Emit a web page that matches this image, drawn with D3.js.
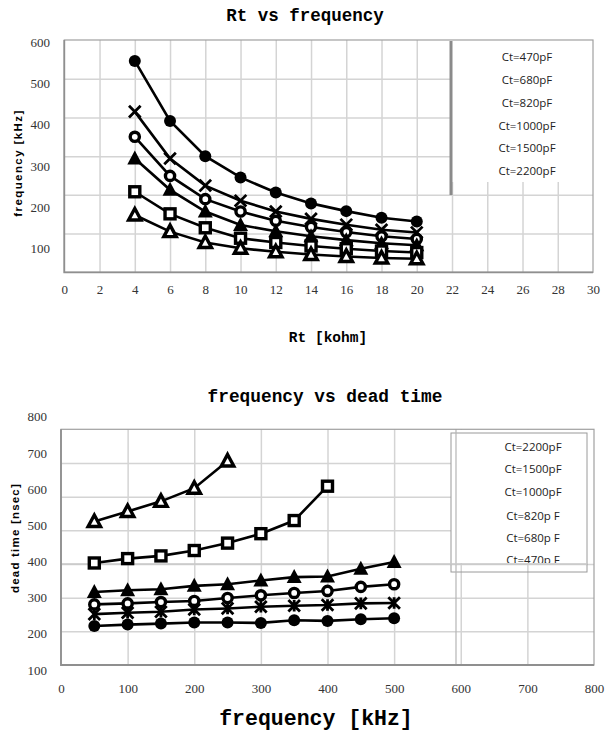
<!DOCTYPE html>
<html><head><meta charset="utf-8">
<script src="https://cdn.jsdelivr.net/npm/d3@7"></script>
<style>body{margin:0;background:#fff}svg{display:block}</style>
</head><body>
<svg id="c" width="609" height="733"></svg>
<script>
// ---------- Chart 1 data: Rt vs frequency ----------
const rt = [4, 6, 8, 10, 12, 14, 16, 18, 20];
const ct1Labels = ["Ct=470pF", "Ct=680pF", "Ct=820pF", "Ct=1000pF", "Ct=1500pF", "Ct=2200pF"];
const f470 = [546, 391, 300, 245, 206, 178, 158, 141, 131];
const f680 = [415, 294, 224, 185, 157, 138, 123, 110, 103];
const f820 = [350, 249, 189, 157, 133, 117, 104, 93, 86];
const f1000 = [294, 213, 157, 122, 106, 93, 83, 75, 70];
const f1500 = [208, 151, 115, 88, 77, 68, 61, 55, 51];
const f2200 = [148, 105, 77, 62, 53, 46, 41, 37, 35];
const rtTicks = [0, 2, 4, 6, 8, 10, 12, 14, 16, 18, 20, 22, 24, 26, 28, 30];
const freqTicks = [100, 200, 300, 400, 500, 600];

// ---------- Chart 2 data: frequency vs dead time ----------
const freq = [50, 100, 150, 200, 250, 300, 350, 400, 450, 500];
const ct2Labels = ["Ct=2200pF", "Ct=1500pF", "Ct=1000pF", "Ct=820p F", "Ct=680p F", "Ct=470p F"];
const d2200 = [526, 556, 586, 625, 706];
const d1500 = [403, 416, 424, 440, 462, 490, 529, 631];
const d1000 = [317, 322, 325, 335, 340, 351, 361, 363, 386, 406];
const d820 = [280, 283, 287, 290, 299, 307, 314, 320, 332, 340];
const d680 = [251, 255, 258, 265, 268, 273, 276, 278, 283, 284];
const d470 = [216, 220, 223, 226, 226, 225, 233, 231, 236, 239];
const freqAxisTicks = [0, 100, 200, 300, 400, 500, 600, 700, 800];
const deadTicks = [100, 200, 300, 400, 500, 600, 700, 800];

const svg = d3.select("#c");
const GRID = "#d4d4d4", BORDER = "#8f8f8f";
const serif = "'Liberation Serif', serif";
const mono = "'Liberation Mono', monospace";

function marker(g, type, x, y) {
  const s = 5.8;
  if (type === "dot") g.append("circle").attr("cx", x).attr("cy", y).attr("r", 6).attr("fill", "#000");
  else if (type === "ring") g.append("circle").attr("cx", x).attr("cy", y).attr("r", 4.6).attr("fill", "#fff").attr("stroke", "#000").attr("stroke-width", 3.4);
  else if (type === "x" || type === "star") {
    g.append("path").attr("d", `M${x-s},${y-s}L${x+s},${y+s}M${x-s},${y+s}L${x+s},${y-s}` + (type === "star" ? `M${x},${y-s}L${x},${y+s}` : ""))
      .attr("stroke", "#000").attr("stroke-width", 2.8).attr("fill", "none");
  }
  else if (type === "tri") g.append("path").attr("d", `M${x},${y-8}L${x+7.5},${y+6}L${x-7.5},${y+6}Z`).attr("fill", "#000");
  else if (type === "otri") g.append("path").attr("d", `M${x},${y-6.5}L${x+6.2},${y+5}L${x-6.2},${y+5}Z`).attr("fill", "#fff").attr("stroke", "#000").attr("stroke-width", 3.4).attr("stroke-linejoin", "miter");
  else if (type === "sq") g.append("rect").attr("x", x-5).attr("y", y-5).attr("width", 10).attr("height", 10).attr("fill", "#fff").attr("stroke", "#000").attr("stroke-width", 3.4);
}

function drawSeries(g, xs, ys, xScale, yScale, type) {
  const pts = ys.map((v, i) => [xs[i], v]);
  g.append("path").datum(pts)
    .attr("d", d3.line().x(d => xScale(d[0])).y(d => yScale(d[1])))
    .attr("fill", "none").attr("stroke", "#000").attr("stroke-width", 2.6);
  pts.forEach(d => marker(g, type, xScale(d[0]), yScale(d[1])));
}

// ================= Chart 1 =================
(function () {
  const x = d3.scaleLinear().domain([0, 30]).range([64.3, 593]);
  const y = d3.scaleLinear().domain([0, 600]).range([272.3, 40]);
  const yLab = d3.scaleLinear().domain([100, 600]).range([248, 42.7]);
  const g = svg.append("g");

  g.append("g").attr("transform", `translate(0,${y(0)})`)
    .call(d3.axisBottom(x).tickValues(rtTicks.slice(1, -1)).tickSize(-(y(0) - y(600))).tickFormat(""))
    .call(a => a.select(".domain").remove())
    .call(a => a.selectAll("line").attr("stroke", GRID).attr("stroke-width", 1.5));
  g.append("g").attr("transform", `translate(${x(0)},0)`)
    .call(d3.axisLeft(y).tickValues(freqTicks.slice(0, -1)).tickSize(-(x(30) - x(0))).tickFormat(""))
    .call(a => a.select(".domain").remove())
    .call(a => a.selectAll("line").attr("stroke", GRID).attr("stroke-width", 1.5));

  g.append("rect").attr("x", 451).attr("y", 40).attr("width", 142).attr("height", 142).attr("fill", "#fff");
  g.append("line").attr("x1", 451).attr("x2", 451).attr("y1", 41).attr("y2", 195).attr("stroke", "#8a8a8a").attr("stroke-width", 3);

  g.append("rect").attr("x", x(0)).attr("y", y(600)).attr("width", x(30) - x(0)).attr("height", y(0) - y(600))
    .attr("fill", "none").attr("stroke", "#a0a0a0").attr("stroke-width", 1.2);
  g.append("path").attr("d", `M${x(0)},${y(600)}V${y(0)}H${x(30)}`).attr("fill", "none").attr("stroke", BORDER).attr("stroke-width", 1.8);

  const legY = [57, 80, 103, 126, 148, 171];
  ct1Labels.forEach((t, i) => g.append("text").attr("x", 527).attr("y", legY[i] + 4).attr("text-anchor", "middle")
    .attr("font-family", "'Open Sans', sans-serif").attr("font-size", 11.5).attr("fill", "#222").text(t));

  g.append("g").attr("transform", `translate(0,${y(0)})`)
    .call(d3.axisBottom(x).tickValues(rtTicks).tickSize(0).tickPadding(12))
    .call(a => a.select(".domain").remove())
    .call(a => a.selectAll("text").attr("font-family", serif).attr("font-size", 13).attr("fill", "#333"));
  g.append("g").attr("transform", `translate(50,0)`)
    .call(d3.axisLeft(yLab).tickValues(freqTicks).tickSize(0).tickPadding(0))
    .call(a => a.select(".domain").remove())
    .call(a => a.selectAll("text").attr("font-family", serif).attr("font-size", 13).attr("fill", "#333"));

  const sg = g.append("g");
  drawSeries(sg, rt, f470, x, y, "dot");
  drawSeries(sg, rt, f680, x, y, "x");
  drawSeries(sg, rt, f820, x, y, "ring");
  drawSeries(sg, rt, f1000, x, y, "tri");
  drawSeries(sg, rt, f1500, x, y, "sq");
  drawSeries(sg, rt, f2200, x, y, "otri");

  g.append("text").attr("x", 305).attr("y", 21).attr("text-anchor", "middle").attr("font-family", mono)
    .attr("font-weight", "bold").attr("font-size", 17.5).text("Rt vs frequency");
  g.append("text").attr("x", 328).attr("y", 342).attr("text-anchor", "middle").attr("font-family", mono)
    .attr("font-weight", "bold").attr("font-size", 14.5).text("Rt [kohm]");
  g.append("text").attr("transform", "translate(22,163) rotate(-90)").attr("text-anchor", "middle")
    .attr("font-family", "'Liberation Sans', sans-serif").attr("font-weight", "bold").attr("font-size", 11.5)
    .attr("letter-spacing", 1.4).text("frequency [kHz]");
})();

// ================= Chart 2 =================
(function () {
  const x = d3.scaleLinear().domain([0, 800]).range([61, 594]);
  const y = d3.scaleLinear().domain([100, 800]).range([665, 429.3]);
  const yLab = d3.scaleLinear().domain([100, 800]).range([670, 416.7]);
  const g = svg.append("g");

  g.append("g").attr("transform", `translate(0,${y(100)})`)
    .call(d3.axisBottom(x).tickValues(freqAxisTicks.slice(1, -1)).tickSize(-(y(100) - y(800))).tickFormat(""))
    .call(a => a.select(".domain").remove())
    .call(a => a.selectAll("line").attr("stroke", GRID).attr("stroke-width", 1.5));
  g.append("g").attr("transform", `translate(${x(0)},0)`)
    .call(d3.axisLeft(y).tickValues(deadTicks.slice(1, -1)).tickSize(-(x(800) - x(0))).tickFormat(""))
    .call(a => a.select(".domain").remove())
    .call(a => a.selectAll("line").attr("stroke", GRID).attr("stroke-width", 1.5));

  g.append("rect").attr("x", 451).attr("y", 430).attr("width", 143).attr("height", 133).attr("fill", "#fff");
  g.append("rect").attr("x", 451).attr("y", 433).attr("width", 136).attr("height", 139).attr("fill", "none").attr("stroke", "#9a9a9a").attr("stroke-width", 1);
  g.append("line").attr("x1", 456).attr("x2", 456).attr("y1", 429).attr("y2", 665).attr("stroke", "#b5b5b5").attr("stroke-width", 1.2);
  const clip = svg.append("clipPath").attr("id", "legclip");
  clip.append("rect").attr("x", 456).attr("y", 429).attr("width", 138).attr("height", 134);
  const legY = [447, 469, 492, 516, 538, 560];
  const lg = g.append("g").attr("clip-path", "url(#legclip)");
  ct2Labels.forEach((t, i) => lg.append("text").attr("x", 533).attr("y", legY[i] + 4).attr("text-anchor", "middle")
    .attr("font-family", "'Open Sans', sans-serif").attr("font-size", 11.5).attr("fill", "#222").text(t));
  g.append("line").attr("x1", x(0)).attr("x2", 587).attr("y1", y(400)).attr("y2", y(400)).attr("stroke", "#c8c8c8").attr("stroke-width", 1.5);

  g.append("rect").attr("x", x(0)).attr("y", y(800)).attr("width", x(800) - x(0)).attr("height", y(100) - y(800))
    .attr("fill", "none").attr("stroke", "#a0a0a0").attr("stroke-width", 1.2);
  g.append("path").attr("d", `M${x(0)},${y(800)}V${y(100)}H${x(800)}`).attr("fill", "none").attr("stroke", BORDER).attr("stroke-width", 1.8);

  g.append("g").attr("transform", `translate(0,${y(100)})`)
    .call(d3.axisBottom(x).tickValues(freqAxisTicks).tickSize(0).tickPadding(19))
    .call(a => a.select(".domain").remove())
    .call(a => a.selectAll("text").attr("font-family", serif).attr("font-size", 13).attr("fill", "#333"));
  g.append("g").attr("transform", `translate(47,0)`)
    .call(d3.axisLeft(yLab).tickValues(deadTicks).tickSize(0).tickPadding(0))
    .call(a => a.select(".domain").remove())
    .call(a => a.selectAll("text").attr("font-family", serif).attr("font-size", 13).attr("fill", "#333"));

  const sg = g.append("g");
  drawSeries(sg, freq, d2200, x, y, "otri");
  drawSeries(sg, freq, d1500, x, y, "sq");
  drawSeries(sg, freq, d1000, x, y, "tri");
  drawSeries(sg, freq, d820, x, y, "ring");
  drawSeries(sg, freq, d680, x, y, "star");
  drawSeries(sg, freq, d470, x, y, "dot");

  g.append("text").attr("x", 325).attr("y", 402).attr("text-anchor", "middle").attr("font-family", mono)
    .attr("font-weight", "bold").attr("font-size", 17.8).text("frequency vs dead time");
  g.append("text").attr("x", 316).attr("y", 725).attr("text-anchor", "middle").attr("font-family", mono)
    .attr("font-weight", "bold").attr("font-size", 21.5).text("frequency [kHz]");
  g.append("text").attr("transform", "translate(19,538) rotate(-90)").attr("text-anchor", "middle")
    .attr("font-family", "'Liberation Sans', sans-serif").attr("font-weight", "bold").attr("font-size", 11.5)
    .attr("letter-spacing", 1.2).text("dead time [nsec]");
})();
</script>
</body></html>
